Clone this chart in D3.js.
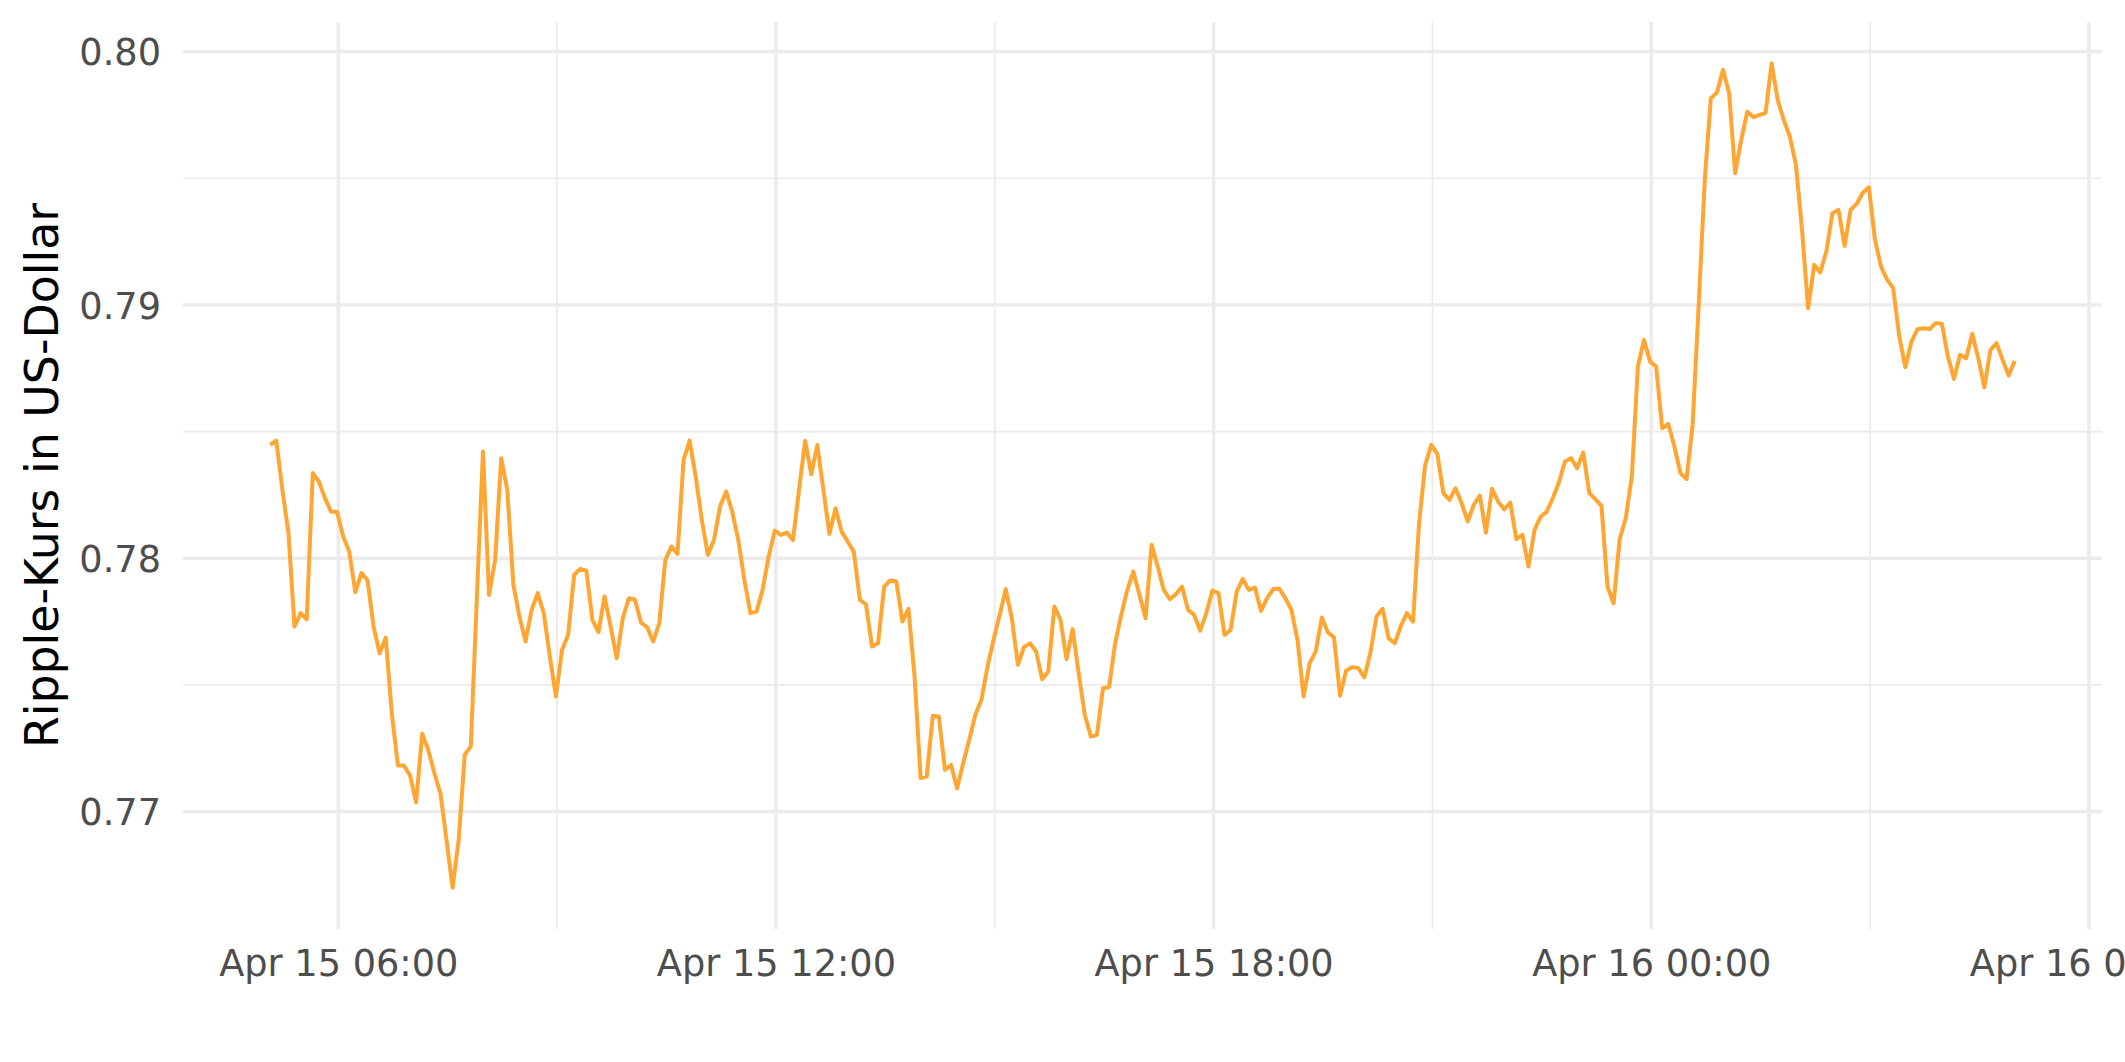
<!DOCTYPE html>
<html>
<head>
<meta charset="utf-8">
<script src="https://cdn.jsdelivr.net/npm/d3@7"></script>
<style>
html, body { margin: 0; padding: 0; background: #ffffff; overflow: hidden; }
svg { display: block; }
</style>
</head>
<body>
<svg id="chart" width="2125" height="1062"></svg>
<script>
// ---------------- DATA ----------------
const startTime = "2022-04-15T05:04:00Z";   // first observation
const stepMinutes = 5;                       // sampling interval

const priceValues = [
  0.78447, 0.78464, 0.78270, 0.78099, 0.77730, 0.77783, 0.77759, 0.78336, 0.78303, 0.78237,
  0.78184, 0.78182, 0.78086, 0.78026, 0.77866, 0.77941, 0.77914, 0.77730, 0.77625, 0.77687,
  0.77388, 0.77182, 0.77182, 0.77142, 0.77036, 0.77307, 0.77243, 0.77151, 0.77072, 0.76888,
  0.76699, 0.76888, 0.77224, 0.77257, 0.77849, 0.78421, 0.77855, 0.77993, 0.78395, 0.78270,
  0.77895, 0.77770, 0.77671, 0.77796, 0.77862, 0.77783, 0.77612, 0.77454, 0.77638, 0.77697,
  0.77934, 0.77958, 0.77951, 0.77757, 0.77708, 0.77849, 0.77730, 0.77605, 0.77763, 0.77842,
  0.77836, 0.77746, 0.77728, 0.77671, 0.77743, 0.77993, 0.78046, 0.78017, 0.78388, 0.78464,
  0.78322, 0.78151, 0.78013, 0.78072, 0.78204, 0.78263, 0.78184, 0.78072, 0.77914, 0.77783,
  0.77789, 0.77875, 0.78007, 0.78109, 0.78092, 0.78101, 0.78072, 0.78270, 0.78464, 0.78332,
  0.78447, 0.78270, 0.78096, 0.78197, 0.78105, 0.78066, 0.78026, 0.77836, 0.77818, 0.77651,
  0.77664, 0.77888, 0.77912, 0.77908, 0.77750, 0.77800, 0.77533, 0.77132, 0.77138, 0.77378,
  0.77375, 0.77164, 0.77184, 0.77092, 0.77191, 0.77283, 0.77382, 0.77441, 0.77572, 0.77678,
  0.77776, 0.77878, 0.77763, 0.77579, 0.77649, 0.77664, 0.77632, 0.77522, 0.77553, 0.77809,
  0.77757, 0.77601, 0.77720, 0.77546, 0.77382, 0.77296, 0.77303, 0.77487, 0.77491, 0.77664,
  0.77776, 0.77875, 0.77947, 0.77855, 0.77763, 0.78053, 0.77967, 0.77875, 0.77838, 0.77858,
  0.77888, 0.77796, 0.77776, 0.77714, 0.77783, 0.77872, 0.77862, 0.77697, 0.77717, 0.77868,
  0.77918, 0.77875, 0.77884, 0.77792, 0.77842, 0.77878, 0.77880, 0.77842, 0.77796, 0.77678,
  0.77454, 0.77586, 0.77632, 0.77766, 0.77707, 0.77688, 0.77457, 0.77557, 0.77570, 0.77566,
  0.77530, 0.77628, 0.77770, 0.77800, 0.77684, 0.77664, 0.77733, 0.77783, 0.77750, 0.78138,
  0.78368, 0.78447, 0.78412, 0.78257, 0.78230, 0.78276, 0.78217, 0.78145, 0.78211, 0.78247,
  0.78101, 0.78274, 0.78224, 0.78193, 0.78220, 0.78075, 0.78092, 0.77967, 0.78112, 0.78164,
  0.78184, 0.78237, 0.78299, 0.78382, 0.78395, 0.78355, 0.78417, 0.78257, 0.78233, 0.78207,
  0.77888, 0.77822, 0.78075, 0.78158, 0.78322, 0.78757, 0.78862, 0.78776, 0.78757, 0.78513,
  0.78530, 0.78441, 0.78336, 0.78312, 0.78526, 0.79000, 0.79493, 0.79816, 0.79838, 0.79928,
  0.79836, 0.79520, 0.79651, 0.79763, 0.79741, 0.79750, 0.79757, 0.79954, 0.79809, 0.79730,
  0.79664, 0.79553, 0.79296, 0.78987, 0.79158, 0.79128, 0.79211, 0.79362, 0.79375, 0.79233,
  0.79375, 0.79399, 0.79443, 0.79464, 0.79257, 0.79151, 0.79100, 0.79066, 0.78875, 0.78754,
  0.78855, 0.78904, 0.78908, 0.78905, 0.78928, 0.78926, 0.78796, 0.78708, 0.78803, 0.78789,
  0.78886, 0.78789, 0.78675, 0.78822, 0.78849, 0.78783, 0.78721, 0.78779
];

const yMajorTicks = [0.77, 0.78, 0.79, 0.80];
const yMinorTicks = [0.775, 0.785, 0.795];
const xMajorTicks = ["2022-04-15T06:00:00Z", "2022-04-15T12:00:00Z", "2022-04-15T18:00:00Z",
                     "2022-04-16T00:00:00Z", "2022-04-16T06:00:00Z"];
const xMinorTicks = ["2022-04-15T09:00:00Z", "2022-04-15T15:00:00Z", "2022-04-15T21:00:00Z",
                     "2022-04-16T03:00:00Z"];
const yAxisTitle = "Ripple-Kurs in US-Dollar";

// ---------------- LAYOUT ----------------
const W = 2125, H = 1062;
const panel = { left: 183, right: 2102, top: 22, bottom: 929 };
const lineColor = "#FFA632";
const gridColor = "#EBEBEB";
const textColor = "#4D4D4D";
const fontFamily = "'DejaVu Sans', Verdana, sans-serif";

const t0 = new Date(startTime).getTime();
const data = priceValues.map((v, i) => ({ t: new Date(t0 + i * stepMinutes * 60000), v }));

// ggplot-style 5% expansion
const tExt = d3.extent(data, d => d.t.getTime());
const tPad = (tExt[1] - tExt[0]) * 0.05;
const vExt = d3.extent(data, d => d.v);
const vPad = (vExt[1] - vExt[0]) * 0.05;

const x = d3.scaleUtc()
  .domain([new Date(tExt[0] - tPad), new Date(tExt[1] + tPad)])
  .range([panel.left, panel.right]);
const y = d3.scaleLinear()
  .domain([vExt[0] - vPad, vExt[1] + vPad])
  .range([panel.bottom, panel.top]);

const svg = d3.select("#chart");
svg.append("rect").attr("width", W).attr("height", H).attr("fill", "#ffffff");

const grid = svg.append("g");
// minor horizontal
grid.selectAll("line.ymin").data(yMinorTicks).enter().append("line")
  .attr("x1", panel.left).attr("x2", panel.right)
  .attr("y1", d => y(d)).attr("y2", d => y(d))
  .attr("stroke", gridColor).attr("stroke-width", 1.7);
// minor vertical
grid.selectAll("line.xmin").data(xMinorTicks.map(s => new Date(s))).enter().append("line")
  .attr("x1", d => x(d)).attr("x2", d => x(d))
  .attr("y1", panel.top).attr("y2", panel.bottom)
  .attr("stroke", gridColor).attr("stroke-width", 1.7);
// major horizontal
grid.selectAll("line.ymaj").data(yMajorTicks).enter().append("line")
  .attr("x1", panel.left).attr("x2", panel.right)
  .attr("y1", d => y(d)).attr("y2", d => y(d))
  .attr("stroke", gridColor).attr("stroke-width", 3.4);
// major vertical
grid.selectAll("line.xmaj").data(xMajorTicks.map(s => new Date(s))).enter().append("line")
  .attr("x1", d => x(d)).attr("x2", d => x(d))
  .attr("y1", panel.top).attr("y2", panel.bottom)
  .attr("stroke", gridColor).attr("stroke-width", 3.4);

// line
const line = d3.line().x(d => x(d.t)).y(d => y(d.v));
svg.append("path").datum(data)
  .attr("d", line)
  .attr("fill", "none")
  .attr("stroke", lineColor)
  .attr("stroke-width", 4)
  .attr("stroke-linejoin", "round")
  .attr("stroke-linecap", "butt");

// y axis labels
const yAxis = d3.axisLeft(y).tickValues(yMajorTicks).tickFormat(d3.format(".2f")).tickSize(0).tickPadding(0);
const gy = svg.append("g").attr("transform", `translate(${panel.left - 22},0)`).call(yAxis);
gy.select(".domain").remove();
gy.selectAll("text")
  .attr("font-family", fontFamily).attr("font-size", 36.7).attr("fill", textColor)
  .attr("dy", null).attr("dominant-baseline", null)
  .attr("y", 13.4);

// x axis labels
const fmt = d3.utcFormat("%b %d %H:%M");
const xAxis = d3.axisBottom(x).tickValues(xMajorTicks.map(s => new Date(s))).tickFormat(fmt).tickSize(0).tickPadding(0);
const gx = svg.append("g").attr("transform", `translate(0,${panel.bottom})`).call(xAxis);
gx.select(".domain").remove();
gx.selectAll("text")
  .attr("font-family", fontFamily).attr("font-size", 36.7).attr("fill", textColor)
  .attr("dy", null).attr("y", 47);

// y axis title
svg.append("text")
  .attr("transform", `translate(57.5,${(panel.top + panel.bottom) / 2}) rotate(-90)`)
  .attr("text-anchor", "middle")
  .attr("font-family", fontFamily).attr("font-size", 45.8).attr("fill", "#000000")
  .text(yAxisTitle);
</script>
</body>
</html>
